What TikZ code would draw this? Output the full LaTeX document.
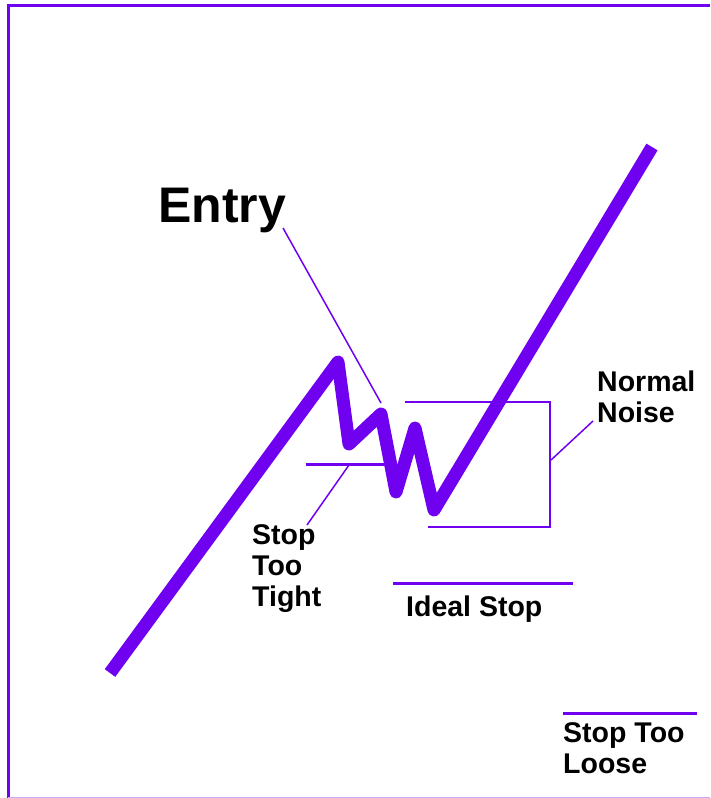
\documentclass[tikz,border=0pt]{standalone}
\usepackage{fontspec}
\setmainfont{Liberation Sans}
\definecolor{trend}{RGB}{112,0,240}
\definecolor{faint}{RGB}{200,170,250}
\begin{document}
\begin{tikzpicture}[x=1pt,y=-1pt, every node/.style={font=\fontsize{28.5}{31}\selectfont\bfseries, inner sep=0pt}]
\useasboundingbox (0,0) rectangle (710,798);

% Frame
\draw[trend, line width=3pt] (8,798) -- (8,5) -- (710,5);
\draw[faint, line width=1pt] (8,797) -- (710,797);

% Price path
\coordinate (p0) at (110,673);
\coordinate (p1) at (338,362);
\coordinate (p2) at (349,444);
\coordinate (p3) at (381,414);
\coordinate (p4) at (396,492);
\coordinate (p5) at (415,428);
\coordinate (p6) at (434,510);
\coordinate (p7) at (652,147);
\draw[trend, line width=13pt, line join=round] (p0) -- (p1) -- (p2) -- (p3) -- (p4) -- (p5) -- (p6) -- (p7);

% Entry
\node[anchor=base west, font=\fontsize{50}{56}\selectfont\bfseries] (entry) at (158,222) {Entry};
\coordinate (entryfoot) at (283,228);
\coordinate (entrytip) at (381,403);
\draw[trend, line width=1.5pt] (entryfoot) -- (entrytip);

% Stop too tight
\coordinate (tightL) at (306,464);
\coordinate (tightR) at (385,464);
\coordinate (tightmid) at (349,465);
\draw[trend, line width=3pt] (tightL) -- (tightR);
\node[anchor=base west, align=left] (tight) at (252,606) {Stop\\Too\\Tight};
\coordinate (tightfoot) at (307,525);
\draw[trend, line width=1.5pt] (tightmid) -- (tightfoot);

% Normal noise
\coordinate (boxTL) at (405,402);
\coordinate (boxTR) at (550,402);
\coordinate (boxBR) at (550,527);
\coordinate (boxBL) at (428,527);
\draw[trend, line width=1.5pt] (boxTL) -- (boxTR) -- (boxBR) -- (boxBL);
\node[anchor=base west, align=left] (noise) at (597,422) {Normal\\Noise};
\coordinate (boxmid) at (551,460);
\coordinate (noisefoot) at (593,421);
\draw[trend, line width=1.5pt] (boxmid) -- (noisefoot);

% Ideal stop
\coordinate (idealL) at (393,583);
\coordinate (idealR) at (573,583);
\draw[trend, line width=3pt] (idealL) -- (idealR);
\node[anchor=base west] (ideal) at (406,616) {Ideal Stop};

% Stop too loose
\coordinate (looseL) at (563,713);
\coordinate (looseR) at (697,713);
\draw[trend, line width=3pt] (looseL) -- (looseR);
\node[anchor=base west, align=left] (loose) at (563,773) {Stop Too\\Loose};

\end{tikzpicture}
\end{document}
